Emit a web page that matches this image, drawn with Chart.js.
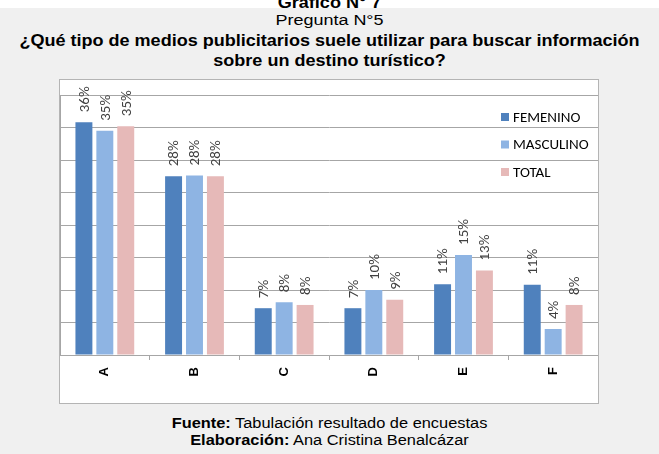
<!DOCTYPE html>
<html>
<head>
<meta charset="utf-8">
<script src="https://cdn.jsdelivr.net/npm/chart.js@4/dist/chart.umd.min.js"></script>
<style>
  html, body { margin: 0; padding: 0; }
  body { width: 659px; height: 454px; background: #f0f0f0; position: relative; overflow: hidden;
         font-family: "Liberation Sans", Arial, sans-serif; color: #000; }
  .band { position: absolute; left: 0; top: 0; width: 659px; height: 8px; background: #fff; overflow: hidden; }
  .t { position: absolute; left: 0; width: 659px; text-align: center; white-space: nowrap; transform-origin: 50% 50%; }
  #box { position: absolute; left: 59px; top: 79px; width: 540px; height: 325px; box-sizing: border-box;
         border: 1px solid #b4b4b4; background: #fff; }
  #box canvas { display: block; }
</style>
</head>
<body>
<div class="band"><div class="t" style="top:-5px;font-size:16px;line-height:16px;font-weight:bold;transform:scaleX(1.13);">Gráfico N° 7</div></div>
<div class="t" style="top:12px;font-size:15.5px;line-height:16px;transform:scaleX(1.16);">Pregunta N°5</div>
<div class="t" style="top:31px;font-size:16px;line-height:20px;font-weight:bold;transform:scaleX(1.127);">¿Qué tipo de medios publicitarios suele utilizar para buscar información<br>sobre un destino turístico?</div>
<div id="box"><canvas id="myChart" width="538" height="323"></canvas></div>
<div class="t" style="top:415px;font-size:14px;line-height:16.5px;transform:scaleX(1.17);"><b>Fuente:</b> Tabulación resultado de encuestas<br><b>Elaboración:</b> Ana Cristina Benalcázar</div>

<script>
const categories = ['A', 'B', 'C', 'D', 'E', 'F'];
const femenino = [35.8, 27.5, 7.2, 7.2, 10.9, 10.8];
const masculino = [34.5, 27.6, 8.1, 10.0, 15.4, 4.0];
const total = [35.2, 27.5, 7.7, 8.5, 13.0, 7.7];
const seriesNames = ['FEMENINO', 'MASCULINO', 'TOTAL'];
const seriesColors = ['#4f81bd', '#8eb4e3', '#e6b9b8'];

const labelFont = '"Carlito", "Lato", sans-serif';

// rotated % labels above the bars
const barLabels = {
  id: 'barLabels',
  afterDatasetsDraw(chart) {
    const ctx = chart.ctx;
    ctx.save();
    ctx.fillStyle = '#404040';
    ctx.font = '15px ' + labelFont;
    ctx.textAlign = 'left';
    ctx.textBaseline = 'middle';
    chart.data.datasets.forEach((ds, i) => {
      chart.getDatasetMeta(i).data.forEach((bar, j) => {
        ctx.save();
        ctx.translate(bar.x, bar.y - 10);
        ctx.rotate(-Math.PI / 2);
        ctx.fillText(Math.round(ds.data[j]) + '%', 0, 1);
        ctx.restore();
      });
    });
    ctx.restore();
  }
};

// legend inside the plot, on the right
const insideLegend = {
  id: 'insideLegend',
  afterDraw(chart) {
    const ctx = chart.ctx;
    const x = chart.chartArea.right - 97;
    ctx.save();
    ctx.font = '15px ' + labelFont;
    ctx.textAlign = 'left';
    ctx.textBaseline = 'middle';
    chart.data.datasets.forEach((ds, i) => {
      const y = 37 + i * 27.5;
      ctx.fillStyle = ds.backgroundColor;
      ctx.fillRect(x, y - 4, 8, 8);
      ctx.fillStyle = '#000';
      ctx.fillText(ds.label, x + 12, y + 1);
    });
    ctx.restore();
  }
};

const chart = new Chart('myChart', {
  type: 'bar',
  data: {
    labels: categories,
    datasets: [femenino, masculino, total].map((d, i) => ({
      label: seriesNames[i],
      data: d,
      backgroundColor: seriesColors[i],
      categoryPercentage: 0.7,
      barPercentage: 0.81
    }))
  },
  options: {
    responsive: false,
    devicePixelRatio: 1,
    animation: false,
    layout: { padding: { top: 15, left: 0, right: 0, bottom: 0 } },
    plugins: {
      legend: { display: false },
      tooltip: { enabled: false }
    },
    scales: {
      x: {
        grid: { offset: true, drawOnChartArea: false, tickLength: 5, color: '#a6a6a6' },
        border: { color: '#a6a6a6' },
        ticks: {
          minRotation: 90,
          maxRotation: 90,
          padding: 7,
          color: '#000',
          font: { family: '"Liberation Sans", Arial, sans-serif', size: 13, weight: 'bold' }
        },
        afterFit: s => { s.height = 48; }
      },
      y: {
        min: 0,
        max: 40,
        ticks: { display: false, stepSize: 5 },
        grid: { drawTicks: false, color: '#a6a6a6' },
        border: { color: '#a6a6a6' },
        afterFit: s => { s.width = 0; }
      }
    }
  },
  plugins: [barLabels, insideLegend]
});
</script>
</body>
</html>
